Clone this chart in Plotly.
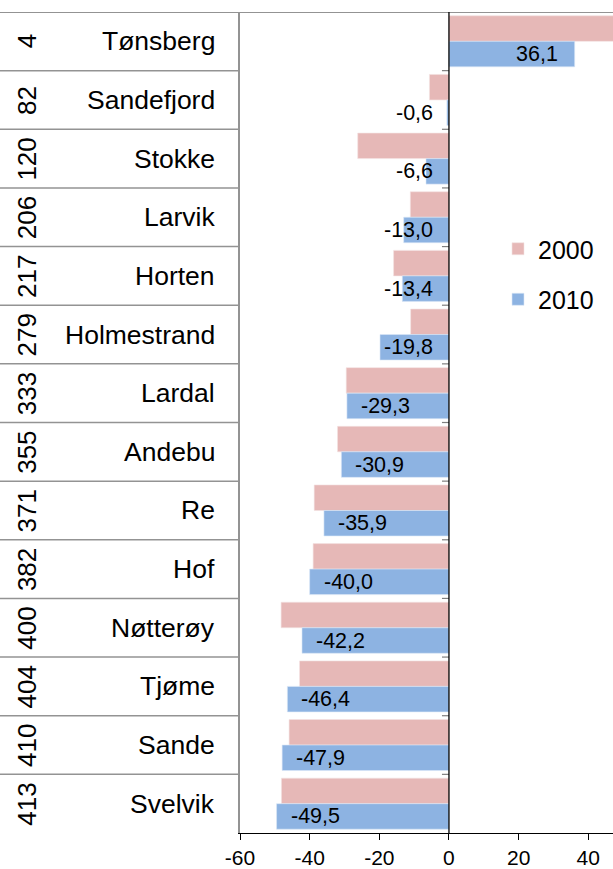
import plotly.graph_objects as go

# ---- data ----
categories = ["Tønsberg", "Sandefjord", "Stokke", "Larvik", "Horten", "Holmestrand",
              "Lardal", "Andebu", "Re", "Hof", "Nøtterøy", "Tjøme", "Sande", "Svelvik"]
ranks = [4, 82, 120, 206, 217, 279, 333, 355, 371, 382, 400, 404, 410, 413]
values_2000 = [48.0, -5.6, -26.2, -11.1, -15.9, -11.0, -29.5, -32.0, -38.7, -39.0,
               -48.2, -42.9, -45.9, -48.1]
values_2010 = [36.1, -0.6, -6.6, -13.0, -13.4, -19.8, -29.3, -30.9, -35.9, -40.0,
               -42.2, -46.4, -47.9, -49.5]
x_tick_vals = [-60, -40, -20, 0, 20, 40]
x_tick_text = ["-60", "-40", "-20", "0", "20", "40"]

# ---- layout constants ----
W, H = 613, 869
L, R, T, B = 240, 0, 12, 36
PW = W - L - R
X_RANGE = [-60, 47.1]
BARGAP = 0.13
FONT = "Liberation Sans, Arial, Helvetica, sans-serif"
PINK = "#E6B8B7"
BLUE = "#8DB3E2"
GRID = "#939393"

fig = go.Figure()
fig.add_bar(y=categories, x=values_2000, orientation="h", name="2000",
            marker=dict(color=PINK, line=dict(width=0.6, color="#f4e2e2")),
            legendgroup="g2000", hoverinfo="x+y")
fig.add_bar(y=categories, x=values_2010, orientation="h", name="2010",
            marker=dict(color=BLUE, line=dict(width=0.6, color="#dbe7f6")),
            legendgroup="g2010", hoverinfo="x+y")

n = len(categories)
px_per_unit = PW / (X_RANGE[1] - X_RANGE[0])
annotations = []
shapes = []

# value labels on the 2010 bars
blue_offset = (1 - BARGAP) / 4
for i, v in enumerate(values_2010):
    txt = f"{v:.1f}".replace(".", ",")
    if v > 0:
        ax, anchor, shift = v, "right", -15
    elif abs(v) * px_per_unit > 80:
        ax, anchor, shift = v, "left", 12
    else:
        ax, anchor, shift = 0, "right", -14
    annotations.append(dict(x=ax, y=i + blue_offset, xref="x", yref="y", text=txt,
                            showarrow=False, xanchor=anchor, xshift=shift,
                            font=dict(family=FONT, size=21.5, color="black")))

# table: rank + name columns
for i, (name, rk) in enumerate(zip(categories, ranks)):
    annotations.append(dict(x=(217 - L) / PW, y=i, xref="paper", yref="y", text=name,
                            showarrow=False, xanchor="right",
                            font=dict(family=FONT, size=26.5, color="black")))
    annotations.append(dict(x=(27 - L) / PW, y=i, xref="paper", yref="y", text=str(rk),
                            showarrow=False, textangle=-90, xanchor="center",
                            yanchor="middle",
                            font=dict(family=FONT, size=26, color="black")))

# table row lines
for i in range(n):
    x1 = 1 if i == 0 else 0
    shapes.append(dict(type="line", xref="paper", yref="y", x0=-L / PW, x1=x1,
                       y0=i - 0.5, y1=i - 0.5, line=dict(color=GRID, width=2 if i == 0 else 1.5),
                       layer="above"))

# category tick marks at the zero line
for i in range(n - 1):
    shapes.append(dict(type="line", xref="x", yref="y", xsizemode="pixel", xanchor=0,
                       x0=-7, x1=0, y0=i + 0.5, y1=i + 0.5,
                       line=dict(color="#7f7f7f", width=1.2), layer="above"))

# zero line
shapes.append(dict(type="line", xref="x", yref="paper", x0=0, x1=0, y0=0, y1=1,
                   line=dict(color="black", width=1.3), layer="above"))

fig.update_layout(
    width=W, height=H,
    margin=dict(l=L, r=R, t=T, b=B, pad=0),
    paper_bgcolor="white", plot_bgcolor="white",
    font=dict(family=FONT, color="black"),
    barmode="group", bargap=BARGAP, bargroupgap=0,
    showlegend=True,
    legend=dict(x=(498 - L) / PW, y=1 - (226 - T) / (H - T - B), xanchor="left", yanchor="top",
                font=dict(family=FONT, size=25, color="black"),
                traceorder="grouped", tracegroupgap=15, bgcolor="rgba(0,0,0,0)",
                itemwidth=30),
    xaxis=dict(range=X_RANGE, tickmode="array", tickvals=x_tick_vals, ticktext=x_tick_text,
               ticks="outside", ticklen=6, tickwidth=1, tickcolor="black",
               showline=True, linecolor="black", linewidth=1,
               showgrid=False, zeroline=False,
               tickfont=dict(family=FONT, size=21, color="black")),
    yaxis=dict(type="category", range=[n - 0.5, -0.5], showticklabels=False,
               showgrid=False, zeroline=False, ticks="",
               showline=True, linecolor=GRID, linewidth=2),
    annotations=annotations,
    shapes=shapes,
)

fig.write_html("out.html", config={"displayModeBar": False},
               post_script="document.body.style.margin='0';document.body.style.overflow='hidden';")
